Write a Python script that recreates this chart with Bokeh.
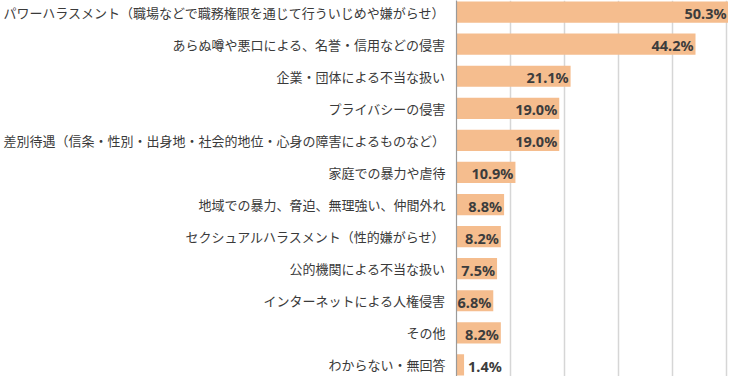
from bokeh.plotting import figure
from bokeh.models import Range1d, FixedTicker, ColumnDataSource
from bokeh.core.properties import value
from bokeh.embed import file_html
from bokeh.resources import INLINE

categories = [
    "パワーハラスメント（職場などで職務権限を通じて行ういじめや嫌がらせ）",
    "あらぬ噂や悪口による、名誉・信用などの侵害",
    "企業・団体による不当な扱い",
    "プライバシーの侵害",
    "差別待遇（信条・性別・出身地・社会的地位・心身の障害によるものなど）",
    "家庭での暴力や虐待",
    "地域での暴力、脅迫、無理強い、仲間外れ",
    "セクシュアルハラスメント（性的嫌がらせ）",
    "公的機関による不当な扱い",
    "インターネットによる人権侵害",
    "その他",
    "わからない・無回答",
]
values = [50.3, 44.2, 21.1, 19.0, 19.0, 10.9, 8.8, 8.2, 7.5, 6.8, 8.2, 1.4]

ypos = list(range(len(categories)))
labels = [f"{v:.1f}%" for v in values]
inside = [v >= 5 for v in values]

FONT = "Noto Sans CJK JP"

p = figure(width=728, height=376, output_backend="svg", toolbar_location=None,
           x_range=Range1d(0, 50.3), y_range=Range1d(11.36, -0.36),
           min_border_left=448, min_border_right=0, min_border_top=0, min_border_bottom=0)
p.outline_line_color = None
p.background_fill_color = "white"
p.border_fill_color = "white"

p.xaxis.visible = False
p.xgrid.ticker = FixedTicker(ticks=[10, 20, 30, 40, 50])
p.xgrid.grid_line_color = "#d6d6d6"
p.xgrid.grid_line_width = 1.5
p.ygrid.grid_line_color = None

p.yaxis.ticker = FixedTicker(ticks=ypos)
p.yaxis.major_label_overrides = {i: c for i, c in zip(ypos, categories)}
p.yaxis.major_tick_line_color = None
p.yaxis.minor_tick_line_color = None
p.yaxis.axis_line_color = "#9a9a9a"
p.yaxis.axis_line_width = 1.2
p.yaxis.major_label_text_font = FONT
p.yaxis.major_label_text_font_size = "13px"
p.yaxis.major_label_text_color = "#3a3a3a"
p.yaxis.major_label_standoff = 5

src = ColumnDataSource(dict(y=ypos, v=values, lab=labels))
p.hbar(y="y", left=0, right="v", height=0.66, source=src,
       fill_color="#f5bd8e", line_color=None)

ins = ColumnDataSource(dict(y=[y for y, i in zip(ypos, inside) if i],
                            v=[v for v, i in zip(values, inside) if i],
                            lab=[l for l, i in zip(labels, inside) if i]))
outs = ColumnDataSource(dict(y=[y for y, i in zip(ypos, inside) if not i],
                             v=[v for v, i in zip(values, inside) if not i],
                             lab=[l for l, i in zip(labels, inside) if not i]))
common = dict(text_font=value("Noto Sans"), text_font_size="14.5px", text_font_style="bold",
              text_color="#3c3c3c", text_baseline="middle")
p.text(x="v", y="y", text="lab", source=ins, text_align="right", x_offset=-2, y_offset=1, **common)
p.text(x="v", y="y", text="lab", source=outs, text_align="left", x_offset=4, y_offset=1, **common)

open("out.html", "w").write(file_html(p, INLINE))
